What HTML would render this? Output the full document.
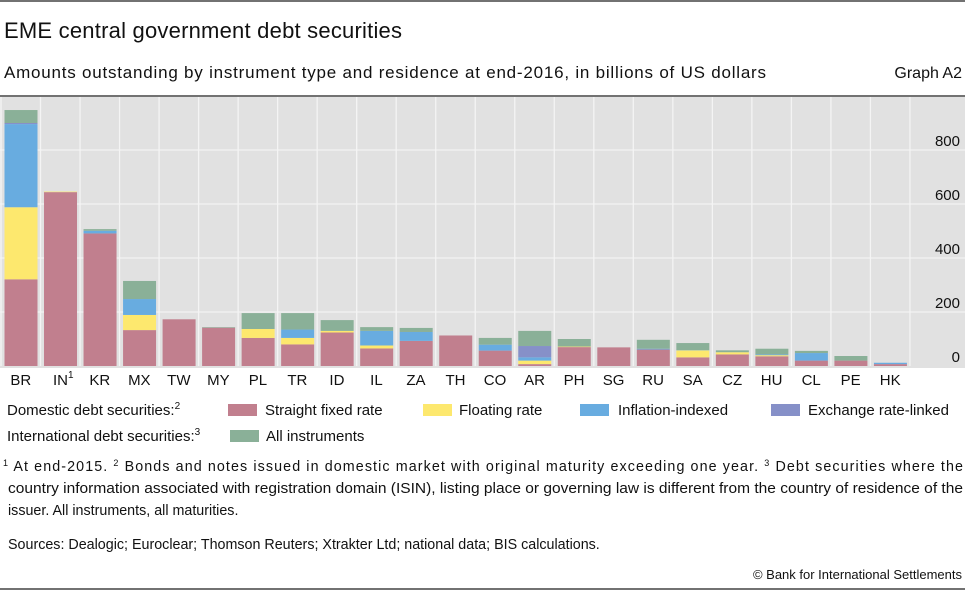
<!DOCTYPE html>
<html><head><meta charset="utf-8"><style>
html,body{margin:0;padding:0;background:#fff;}
svg{display:block;font-family:"Liberation Sans",sans-serif;}
</style></head><body>
<svg id="s" width="965" height="591" viewBox="0 0 965 591" xmlns="http://www.w3.org/2000/svg">
<line x1="0" y1="1" x2="965" y2="1" stroke="#444" stroke-width="1.5"/>
<text x="4" y="38" font-size="22" fill="#111" textLength="398">EME central government debt securities</text>
<text x="4" y="78" font-size="17" fill="#111" textLength="762">Amounts outstanding by instrument type and residence at end-2016, in billions of US dollars</text>
<text x="962" y="78" font-size="16" fill="#111" text-anchor="end">Graph A2</text>
<line x1="0" y1="96" x2="965" y2="96" stroke="#444" stroke-width="1.5"/>
<rect x="0" y="97" width="965" height="271" fill="#e1e1e1"/>
<g id="grid" stroke="#f4f4f4" stroke-width="1.3"></g>
<g id="bars"></g>
<g font-size="15" fill="#111" text-anchor="end">
<text x="960" y="146">800</text><text x="960" y="200">600</text><text x="960" y="254">400</text><text x="960" y="308">200</text><text x="960" y="362">0</text>
</g>
<g id="xl" font-size="15" fill="#111" text-anchor="middle"></g>
<g font-size="15" fill="#111">
<text x="7" y="415">Domestic debt securities:<tspan font-size="10" dy="-6">2</tspan></text>
<rect x="228" y="404" width="29" height="12" fill="#c17f8e"/><text x="265" y="415">Straight fixed rate</text>
<rect x="423" y="404" width="29" height="12" fill="#fde86e"/><text x="459" y="415">Floating rate</text>
<rect x="580" y="404" width="29" height="12" fill="#68ace0"/><text x="618" y="415">Inflation-indexed</text>
<rect x="771" y="404" width="29" height="12" fill="#8690c8"/><text x="808" y="415">Exchange rate-linked</text>
<text x="7" y="441">International debt securities:<tspan font-size="10" dy="-6">3</tspan></text>
<rect x="230" y="430" width="29" height="12" fill="#8ab098"/><text x="266" y="441">All instruments</text>
</g>
<g font-size="14.3" fill="#111">
<text x="3" y="471" textLength="960" lengthAdjust="spacing"><tspan font-size="9" dy="-5">1</tspan><tspan dy="5">  At end-2015.    </tspan><tspan font-size="9" dy="-5">2</tspan><tspan dy="5">  Bonds and notes issued in domestic market with original maturity exceeding one year.    </tspan><tspan font-size="9" dy="-5">3</tspan><tspan dy="5">  Debt securities where the</tspan></text>
<text x="8" y="493" textLength="955" lengthAdjust="spacingAndGlyphs">country information associated with registration domain (ISIN), listing place or governing law is different from the country of residence of the</text>
<text x="8" y="515">issuer. All instruments, all maturities.</text>
<text x="8" y="549">Sources: Dealogic; Euroclear; Thomson Reuters; Xtrakter Ltd; national data; BIS calculations.</text>
<text x="962" y="579" text-anchor="end" font-size="13">© Bank for International Settlements</text>
</g>
<line x1="0" y1="589" x2="965" y2="589" stroke="#444" stroke-width="1.5"/>
</svg>
<script>
var NS="http://www.w3.org/2000/svg";
function el(p,t,a,txt){var e=document.createElementNS(NS,t);for(var k in a)e.setAttribute(k,a[k]);if(txt)e.textContent=txt;p.appendChild(e);return e;}
var g=document.getElementById("grid");
[150,204,258,312].forEach(function(y){el(g,"line",{x1:0,y1:y,x2:965,y2:y});});
for(var k=0;k<=23;k++){var x=1+39.52*k;el(g,"line",{x1:x,y1:97,x2:x,y2:366});}
var d=[["BR",321,588,896,900,948],["IN",644,646,646,646,646],["KR",491,491,501,501,507],["MX",133,189,248,248,315],
["TW",173,173,173,173,173],["MY",142,142,142,142,144],["PL",104,137,137,137,196],["TR",80,104,135,135,196],
["ID",124,130,130,130,170],["IL",65,76,130,130,144],["ZA",93,93,126,126,141],["TH",113,113,113,113,113],
["CO",57,57,79,79,104],["AR",7,20,32,74,130],["PH",70,72,72,72,100],["SG",69,69,69,69,69],["RU",61,61,64,64,97],
["SA",32,58,59,59,85],["CZ",43,51,51,51,58],["HU",36,40,43,43,64],["CL",20,20,48,48,56],["PE",20,20,20,20,37],["HK",7,7,12,12,12]];
var cols=["#c17f8e","#fde86e","#68ace0","#8690c8","#8ab098"];
var b=document.getElementById("bars"),xl=document.getElementById("xl");
function Y(v){return 366-v*0.27;}
d.forEach(function(r,i){
 var x0=1+39.52*i+3.5,w=33;var prev=0;
 for(var j=0;j<5;j++){var v=r[j+1];if(v>prev){el(b,"rect",{x:x0,y:Y(v),width:w,height:Y(prev)-Y(v),fill:cols[j]});}prev=Math.max(prev,v);}
 var t=el(xl,"text",{x:1+39.52*(i+0.5),y:385},r[0]);
 if(r[0]=="IN"){el(t,"tspan",{"font-size":"10",dy:"-7"},"1");t.setAttribute("x",1+39.52*(i+0.5)+3);}
});
</script>
</body></html>
